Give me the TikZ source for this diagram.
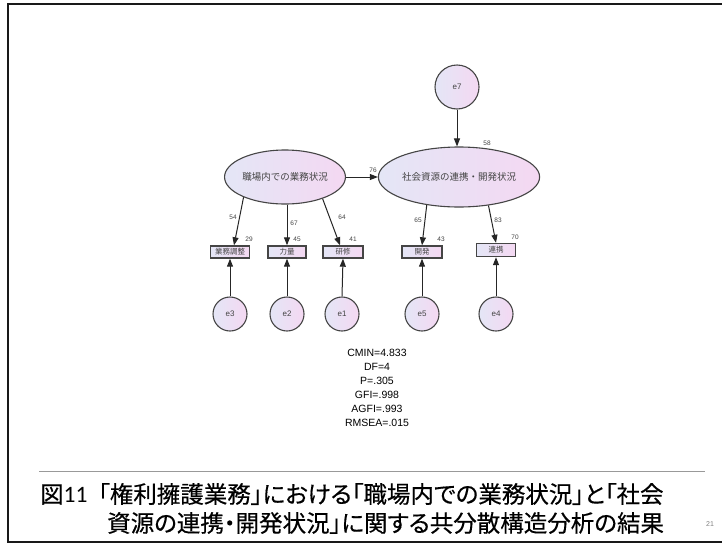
\documentclass[tikz,border=0pt]{standalone}
\usepackage{fontspec}
\setmainfont{Liberation Sans}
\newfontfamily\jp{Noto Sans CJK JP}
\newfontfamily\jpp[RawFeature=+palt,FakeBold=0.4]{Noto Sans CJK JP}
\newfontfamily\calib{Carlito}
\usetikzlibrary{arrows.meta,calc,shapes.geometric}
\definecolor{lc}{HTML}{E4E6F6}
\definecolor{rc}{HTML}{F4D8F2}
\definecolor{edge}{HTML}{454545}
\definecolor{lab}{HTML}{444444}
\tikzset{
  lat/.style={ellipse,draw=edge,line width=1.1pt,left color=lc,right color=rc,inner sep=0pt,font=\jp\fontsize{9.5}{10}\selectfont,text=lab},
  err/.style={circle,draw=edge,line width=1.1pt,left color=lc,right color=rc,inner sep=0pt,font=\fontsize{8}{9}\selectfont,text=lab},
  obs/.style={rectangle,draw=edge,line width=1.4pt,left color=lc,right color=rc,inner sep=0pt,font=\jp\fontsize{7.5}{8}\selectfont,text=lab},
  arr/.style={-{Triangle[length=8pt,width=6pt]},line width=1pt,draw=black!85},
  num/.style={font=\fontsize{6.5}{7}\selectfont,text=lab,inner sep=0pt},
  stat/.style={font=\fontsize{10.5}{11}\selectfont,inner sep=0pt,anchor=center},
  captext/.style={font=\jpp\fontsize{23.5}{26}\selectfont,inner sep=0pt,anchor=west}
}
\begin{document}
\begin{tikzpicture}[x=1pt,y=-1pt]
\useasboundingbox (0,0) rectangle (722,544);
\fill[white] (0,0) rectangle (722,544);
% frame
\draw[line width=2pt,black!90] (722,4) -- (8,4) -- (8,542) -- (722,542);
% latent variables
\node[lat,minimum width=114pt,minimum height=54pt] (L) at (285,177) {職場内での業務状況};
\node[lat,minimum width=136pt,minimum height=60pt] (R) at (459,177) {社会資源の連携・開発状況};
\node[err,minimum size=44pt] (e7) at (457,87) {e7};
% observed
\node[obs,minimum width=39pt,minimum height=12pt] (b1) at (230,252) {業務調整};
\node[obs,minimum width=38pt,minimum height=12pt] (b2) at (287,252) {力量};
\node[obs,minimum width=40pt,minimum height=12pt] (b3) at (343,252) {研修};
\node[obs,minimum width=40pt,minimum height=12pt] (b4) at (422,252) {開発};
\node[obs,minimum width=39pt,minimum height=13pt] (b5) at (496,250) {連携};
% errors
\node[err,minimum size=34pt] (e3) at (230,314) {e3};
\node[err,minimum size=34pt] (e2) at (287,314) {e2};
\node[err,minimum size=34pt] (e1) at (342,314) {e1};
\node[err,minimum size=34pt] (e5) at (422,314) {e5};
\node[err,minimum size=34pt] (e4) at (496,314) {e4};
% paths
\draw[arr] (L.east) -- (R.west);
\draw[arr] (e7.south) -- (e7.south |- R.north);
\draw[arr] (L.206) -- ([xshift=4pt]b1.north);
\draw[arr] (b2.north |- L.south) -- (b2.north);
\draw[arr] (L.330) -- ([xshift=-3pt]b3.north);
\draw[arr] (R.221) -- (b4.north);
\draw[arr] (R.316) -- (b5.north);
\foreach \e/\b in {e3/b1,e2/b2,e1/b3,e5/b4,e4/b5}{\draw[arr] (\e.north) -- (\b.south);}
% coefficients
\node[num] (n76) at (373,170) {76};
\node[num] (n58) at (487,143) {58};
\node[num] (n54) at (233,217) {54};
\node[num] (n67) at (294,223) {67};
\node[num] (n64) at (342,217) {64};
\node[num] (n29) at (249,239) {29};
\node[num] (n45) at (297,239) {45};
\node[num] (n41) at (353,239) {41};
\node[num] (n65) at (418,220) {65};
\node[num] (n83) at (498,220) {83};
\node[num] (n43) at (441,239) {43};
\node[num] (n70) at (515,237) {70};
% fit statistics
\node[stat] (s1) at (377,353) {CMIN=4.833};
\node[stat] (s2) at (377,367) {DF=4};
\node[stat] (s3) at (377,381) {P=.305};
\node[stat] (s4) at (377,395) {GFI=.998};
\node[stat] (s5) at (377,409) {AGFI=.993};
\node[stat] (s6) at (377,423) {RMSEA=.015};
% caption
\draw[line width=1pt,black!40] (39,471) -- (705,471);
\node[captext] (c1) at (40,494) {図{\calib 11}\hspace{0.45em}「権利擁護業務」における「職場内での業務状況」と「社会};
\node[captext] (c2) at (107,523) {資源の連携・開発状況」に関する共分散構造分析の結果};
\node[font=\fontsize{7}{8}\selectfont,text=black!50,anchor=west,inner sep=0pt] (pg) at (706,524) {21};
\end{tikzpicture}
\end{document}
